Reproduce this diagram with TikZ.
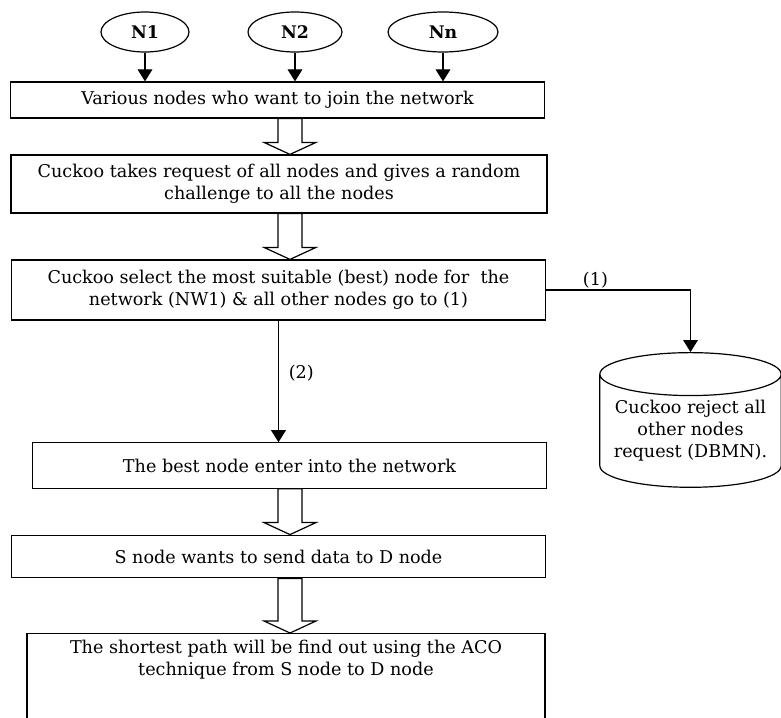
\documentclass[tikz,border=0pt]{standalone}
\usepackage{fontspec}
\setmainfont{DejaVu Serif}
\usetikzlibrary{arrows.meta,shapes.geometric,calc}

\begin{document}
\begin{tikzpicture}[x=0.75pt, y=-0.75pt, line width=0.9pt, font=\fontsize{13.2}{16.5}\selectfont,
	arrows={-Triangle[width=11pt,length=9pt]},
	box/.style={draw, inner sep=0pt, align=center},
	oval/.style={draw, ellipse, minimum height=30pt, inner sep=0pt, font=\fontsize{13}{14}\selectfont\bfseries},
	hollow/.style={-, fill=white}]
	\clip (0,0) rectangle (781,717);

	\node[oval, minimum width=66pt] (N1) at (145,32) {N1};
	\node[oval, minimum width=70.5pt] (N2) at (295,32) {N2};
	\node[oval, minimum width=82.5pt] (Nn) at (443,32) {Nn};

	\node[box, minimum width=400pt, minimum height=27pt] (J) at (277.5,100) {Various nodes who want to join the network};
	\node[box, minimum width=402pt, minimum height=43.5pt] (R) at (279,184) {Cuckoo takes request of all nodes and gives a random\\challenge to all the nodes};
	\node[box, minimum width=401pt, minimum height=45pt] (S) at (278.5,290) {Cuckoo select the most suitable (best) node for\ \ the\\network (NW1) \& all other nodes go to (1)};
	\node[box, minimum width=385pt, minimum height=34pt] (B) at (289.5,465.5) {The best node enter into the network};
	\node[box, minimum width=401pt, minimum height=32pt] (D) at (278.5,556.5) {S node wants to send data to D node};
	\node[box, minimum width=388.5pt, anchor=north, inner ysep=5pt] (P) at (286,633) {The shortest path will be find out using the ACO\\technique from S node to D node\\ \strut\\ \strut};

	\node[draw, cylinder, shape border rotate=90, aspect=0.28, minimum width=136pt, minimum height=101pt, inner sep=0pt, align=center] (DB) at (690.5,431) {Cuckoo reject all\\other nodes\\request (DBMN).};
	\coordinate (ax) at (290,0);

	\foreach \n in {N1,N2,Nn}
		\draw (\n) -- (\n |- J.north);

	\foreach \a/\b in {J/R,R/S,B/D,D/P}
		\draw[hollow] ($(\a.south -| ax)+(-12,0)$) -- ($(\b.north -| ax)+(-12,-12)$) -- ($(\b.north -| ax)+(-26,-12)$) -- (\b.north -| ax) -- ($(\b.north -| ax)+(26,-12)$) -- ($(\b.north -| ax)+(12,-12)$) -- ($(\a.south -| ax)+(12,0)$) -- cycle;

	\draw (S) -| node[pos=0.17, above, inner sep=1pt] {(1)} (DB);
	\draw (S) -- node[pos=0.43, right, xshift=4pt] {(2)} (S |- B.north);
\end{tikzpicture}
\end{document}
